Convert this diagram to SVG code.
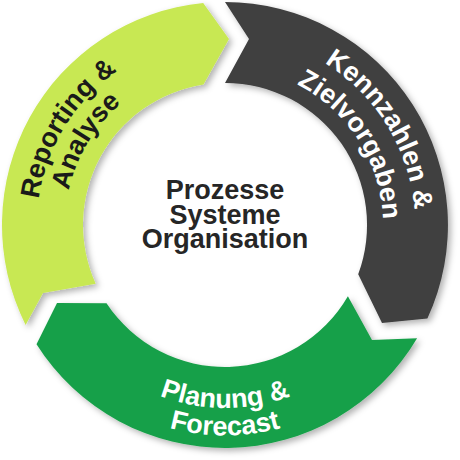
<svg xmlns="http://www.w3.org/2000/svg" xmlns:xlink="http://www.w3.org/1999/xlink" width="460" height="460" viewBox="0 0 460 460">
  <defs>
    <filter id="shadow" x="-20%" y="-20%" width="140%" height="140%">
      <feDropShadow dx="3" dy="3" stdDeviation="3" flood-color="#000" flood-opacity="0.3"/>
    </filter>
    <path id="tpDark1" d="M 253.1 37.1 A 190 190 0 0 1 405.2 285.3"/>
    <path id="tpDark2" d="M 245.6 68.4 A 158 158 0 0 1 375.7 272.5"/>
    <path id="tpYel1" d="M 46.7 284.7 A 188 188 0 0 1 197.2 39.1"/>
    <path id="tpYel2" d="M 73.7 277.1 A 160 160 0 0 1 200 67"/>
    <path id="tpGrn1" d="M 84.8 342.6 A 183 183 0 0 0 365.2 342.6"/>
    <path id="tpGrn2" d="M 63.8 360.3 A 210.5 210.5 0 0 0 386.2 360.3"/>
  </defs>
  <style>
    .seg { filter: url(#shadow); }
    .lbl { font-family: "Liberation Sans", Arial, sans-serif; font-weight: bold; font-size: 27px; text-anchor: middle; }
    .white { fill: #ffffff; }
    .black { fill: #1a1a1a; }
    .center { font-family: "Liberation Sans", Arial, sans-serif; font-weight: bold; font-size: 27px; text-anchor: middle; fill: #262626; }
  </style>
  <rect width="460" height="460" fill="#ffffff"/>
  <g id="connectors"/>
  <g id="reporting">
    <path class="seg" fill="#C8E853" d="M 25.6 324.9 A 223 223 0 0 1 203.2 3.1 L 229 39 L 203.5 84.6 A 142 142 0 0 0 95.7 283.7 L 43 293 Z"/>
    <text class="lbl black"><textPath xlink:href="#tpYel1" href="#tpYel1" startOffset="50%">Reporting &amp;</textPath></text>
    <text class="lbl black"><textPath xlink:href="#tpYel2" href="#tpYel2" startOffset="50%">Analyse</textPath></text>
  </g>
  <g id="kennzahlen">
    <path class="seg" fill="#404040" d="M 225 2 A 223 223 0 0 1 427.4 318.5 L 382 323 L 358.2 274.3 A 142 142 0 0 0 225 83 L 249 39 Z"/>
    <text class="lbl white"><textPath xlink:href="#tpDark1" href="#tpDark1" startOffset="50%">Kennzahlen &amp;</textPath></text>
    <text class="lbl white"><textPath xlink:href="#tpDark2" href="#tpDark2" startOffset="50%">Zielvorgaben</textPath></text>
  </g>
  <g id="planung">
    <path class="seg" fill="#19A049" d="M 417.1 338.2 A 223 223 0 0 1 36.5 344.2 L 57 303 L 106.5 303.2 A 142 142 0 0 0 347.9 296.2 L 372 340 Z"/>
    <text class="lbl white"><textPath xlink:href="#tpGrn1" href="#tpGrn1" startOffset="50%">Planung &amp;</textPath></text>
    <text class="lbl white"><textPath xlink:href="#tpGrn2" href="#tpGrn2" startOffset="50%">Forecast</textPath></text>
  </g>
  <g id="center">
    <text class="center" x="225" y="199">Prozesse</text>
    <text class="center" x="225" y="223.5">Systeme</text>
    <text class="center" x="225" y="248">Organisation</text>
  </g>
</svg>
